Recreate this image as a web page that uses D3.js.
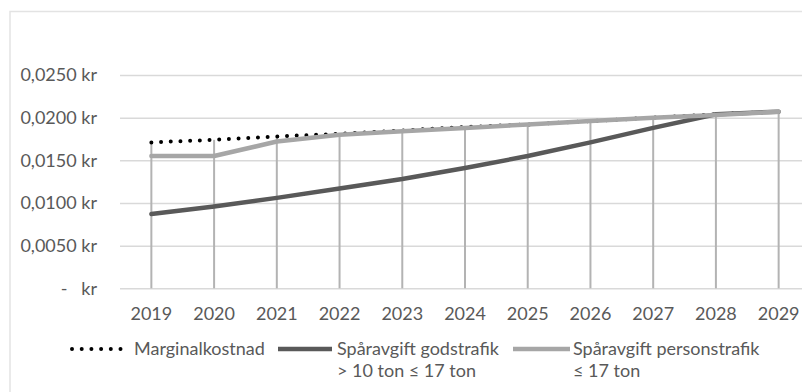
<!DOCTYPE html>
<html>
<head>
<meta charset="utf-8">
<script src="https://cdn.jsdelivr.net/npm/d3@7"></script>
<style>
  html, body { margin: 0; padding: 0; background: #fff; }
  svg { display: block; font-family: Lato, "Open Sans", sans-serif; }
</style>
</head>
<body>
<svg id="chart" width="802" height="392"></svg>
<script>
// Avgifter per bruttotonkilometer, 2019–2029
const years = ["2019", "2020", "2021", "2022", "2023", "2024", "2025", "2026", "2027", "2028", "2029"];
const marginalkostnad = [0.0171, 0.0174, 0.0178, 0.0181, 0.0185, 0.0189, 0.0192, 0.0196, 0.0200, 0.0204, 0.0207];
const godstrafik = [0.0087, 0.0096, 0.0106, 0.0117, 0.0128, 0.0141, 0.0155, 0.0171, 0.0188, 0.0204, 0.0207];
const persontrafik = [0.0155, 0.0155, 0.0172, 0.0180, 0.0184, 0.0188, 0.0192, 0.0196, 0.0200, 0.0203, 0.0207];
const yTicks = [0, 0.005, 0.010, 0.015, 0.020, 0.025];
const seriesNames = [
  ["Marginalkostnad"],
  ["Spåravgift godstrafik", "> 10 ton ≤ 17 ton"],
  ["Spåravgift personstrafik", "≤ 17 ton"]
];

const textColor = "#595959";
const gridColor = "#d9d9d9";

const svg = d3.select("#chart");

// outer chart frame
svg.append("rect")
  .attr("x", 10).attr("y", 11.5)
  .attr("width", 820).attr("height", 400)
  .attr("fill", "none")
  .attr("stroke", "#e3e3e3")
  .attr("stroke-width", 1.5);

const plot = { left: 120, right: 810, top: 75, bottom: 288.3 };

const x = d3.scaleBand().domain(years).range([plot.left, plot.right]);
const cx = d => x(d) + x.bandwidth() / 2;
const y = d3.scaleLinear().domain([0, 0.025]).range([plot.bottom, plot.top]);

const fmt = v => v === 0 ? "-\u00a0\u00a0\u00a0kr" : d3.format(".4f")(v).replace(".", ",") + " kr";

// horizontal gridlines + value labels
const yAxis = svg.append("g")
  .attr("transform", `translate(${plot.left},0)`)
  .call(d3.axisLeft(y).tickValues(yTicks).tickFormat(fmt)
    .tickSize(-(plot.right - plot.left)).tickPadding(23));
yAxis.select(".domain").remove();
yAxis.selectAll(".tick line").attr("stroke", gridColor).attr("stroke-width", 1.5);
yAxis.selectAll(".tick text")
  .attr("fill", textColor).attr("font-size", 18).attr("font-family", "Lato, sans-serif");

// category labels
const xAxis = svg.append("g")
  .attr("transform", `translate(0,${plot.bottom})`)
  .call(d3.axisBottom(x).tickSize(0).tickPadding(19));
xAxis.select(".domain").remove();
xAxis.selectAll(".tick text")
  .attr("fill", textColor).attr("font-size", 18).attr("font-family", "Lato, sans-serif");

// drop lines from the highest value down to the axis
const tops = years.map((yr, i) => ({ yr, v: Math.max(marginalkostnad[i], godstrafik[i], persontrafik[i]) }));
svg.append("g").selectAll("line").data(tops).join("line")
  .attr("x1", d => cx(d.yr)).attr("x2", d => cx(d.yr))
  .attr("y1", d => y(d.v)).attr("y2", y(0))
  .attr("stroke", "#b3b3b3").attr("stroke-width", 2);

const line = d3.line().x(d => cx(d.yr)).y(d => y(d.v));
const toPts = arr => years.map((yr, i) => ({ yr, v: arr[i] }));

const styles = [
  { data: marginalkostnad, stroke: "#000", width: 4, dash: "0 9.7" },
  { data: godstrafik, stroke: "#595959", width: 4.5, dash: null },
  { data: persontrafik, stroke: "#a6a6a6", width: 4.5, dash: null }
];

styles.forEach(s => {
  svg.append("path")
    .datum(toPts(s.data))
    .attr("d", line)
    .attr("fill", "none")
    .attr("stroke", s.stroke)
    .attr("stroke-width", s.width)
    .attr("stroke-linecap", "round")
    .attr("stroke-linejoin", "round")
    .attr("stroke-dasharray", s.dash);
});

// legend
const legendPos = [
  { x0: 72, x1: 122, tx: 134 },
  { x0: 278, x1: 332, tx: 337 },
  { x0: 513, x1: 570, tx: 573 }
];
const lg = svg.append("g");
styles.forEach((s, i) => {
  const p = legendPos[i];
  lg.append("line")
    .attr("x1", p.x0).attr("x2", p.x1)
    .attr("y1", 349).attr("y2", 349)
    .attr("stroke", s.stroke)
    .attr("stroke-width", s.width)
    .attr("stroke-linecap", s.dash ? "round" : "butt")
    .attr("stroke-dasharray", s.dash);
  const t = lg.append("text")
    .attr("x", p.tx).attr("y", 355)
    .attr("fill", textColor).attr("font-size", 18);
  seriesNames[i].forEach((ln, j) => {
    t.append("tspan").attr("x", p.tx).attr("dy", j === 0 ? 0 : 22).text(ln);
  });
});
</script>
</body>
</html>
